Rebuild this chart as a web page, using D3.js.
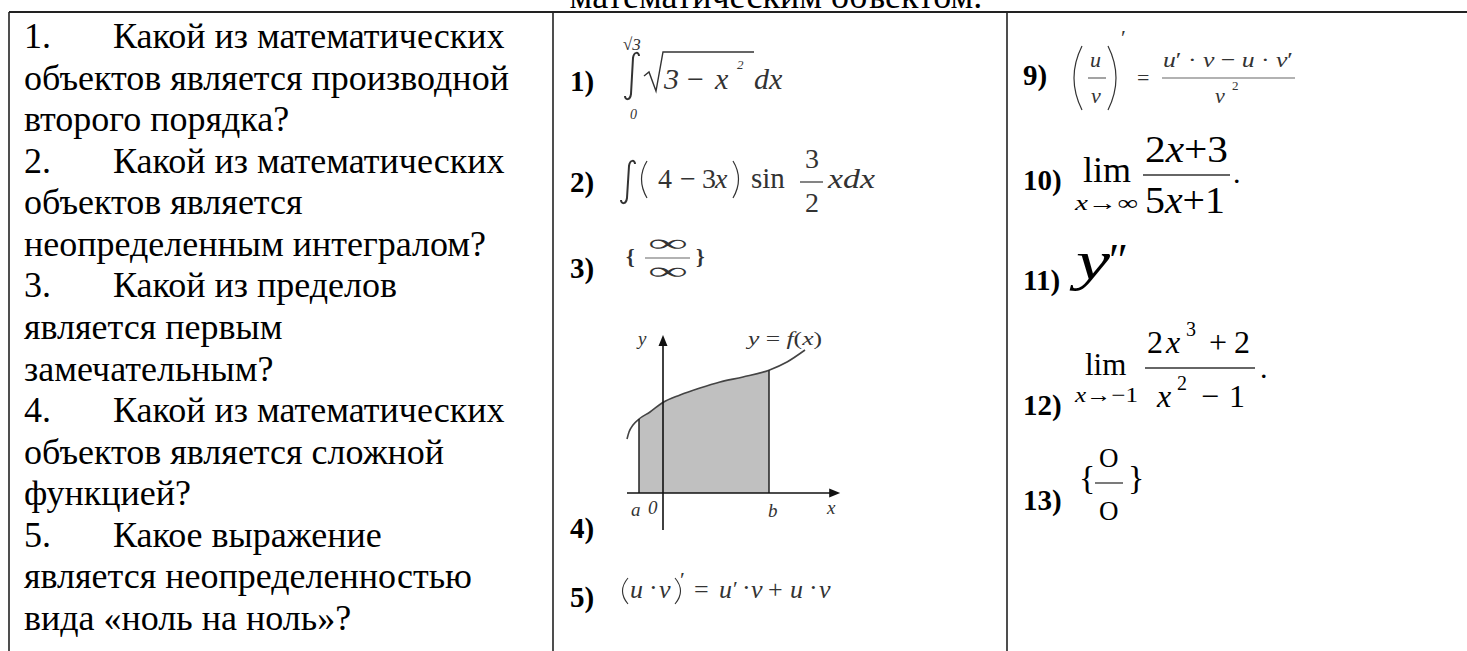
<!DOCTYPE html>
<html>
<head>
<meta charset="utf-8">
<script src="https://cdn.jsdelivr.net/npm/d3@7"></script>
<style>
  html, body { margin: 0; padding: 0; background: #fff; overflow: hidden; }
  text { font-family: "Liberation Serif", "Times New Roman", serif; }
</style>
</head>
<body>
<script>
/* ---------------------------- */
/* DATA                         */
/* ---------------------------- */

const headerText = "математическим объектом.";

// Left column: question numbers and wrapped text lines
const questionNums = ["1.", "", "", "2.", "", "", "3.", "", "", "4.", "", "", "5.", "", ""];
const questionText = [
    "Какой из математических",
    "объектов является производной",
    "второго порядка?",
    "Какой из математических",
    "объектов является",
    "неопределенным интегралом?",
    "Какой из пределов",
    "является первым",
    "замечательным?",
    "Какой из математических",
    "объектов является сложной",
    "функцией?",
    "Какое выражение",
    "является неопределенностью",
    "вида «ноль на ноль»?"
];

// Answer labels
const middleLabels = ["1)", "2)", "3)", "4)", "5)"];
const rightLabels = ["9)", "10)", "11)", "12)", "13)"];

// Item 4: curve y = f(x) (axis units)
const curveX = [-0.9, -0.85, -0.75, -0.6, -0.325, -0.025, 0.425, 0.925, 1.425, 2.0, 2.65, 3.1, 3.55];
const curveY = [1.35, 1.525, 1.7, 1.85, 2.025, 2.25, 2.45, 2.625, 2.775, 2.9, 3.07, 3.275, 3.575];
const boundA = -0.6, boundB = 2.65;
const axisX = [-0.9, 4.43];
const axisY = [-0.925, 3.95];

/* ---------------------------- */
/* CANVAS                       */
/* ---------------------------- */

const W = 1467, H = 651;
const ink = "#000", gray = "#333";

let svg = d3.select("body")
    .append("svg")
        .attr("width", W)
        .attr("height", H);

// plain text helper
function txt(x, y, s, o = {}) {
    let t = svg.append("text")
        .attr("x", x)
        .attr("y", y)
        .attr("font-size", o.size || 28)
        .attr("fill", o.fill || ink)
        .text(s);
    if (o.italic) t.attr("font-style", "italic");
    if (o.bold) t.attr("font-weight", "bold");
    if (o.anchor) t.attr("text-anchor", o.anchor);
    if (o.len) t.attr("textLength", o.len).attr("lengthAdjust", "spacingAndGlyphs");
    return t;
}

// text with mixed italic pieces: parts = [[str, italic], ...]
function rich(x, y, parts, o = {}) {
    let t = txt(x, y, "", o);
    parts.forEach(p => {
        t.append("tspan")
            .attr("font-style", p[1] ? "italic" : "normal")
            .text(p[0]);
    });
    return t;
}

function stroke(d, w, c) {
    return svg.append("path")
        .attr("d", d)
        .attr("fill", "none")
        .attr("stroke", c || gray)
        .attr("stroke-width", w || 1.3);
}

function hline(x1, x2, y, c, w) {
    stroke(`M${x1},${y}H${x2}`, w || 1.2, c);
}

// integral sign between y1 and y2, left edge x
function integral(x, y1, y2) {
    const w = 14;
    return stroke(`M${x + w},${y1 + 4} C${x + w},${y1} ${x + w - 5},${y1 - 1} ${x + w - 6},${y1 + 6}` +
        ` L${x + 6},${y2 - 6} C${x + 5},${y2 + 1} ${x},${y2} ${x},${y2 - 4}`, 2);
}

/* ---------------------------- */
/* TABLE                        */
/* ---------------------------- */

// header sentence, mostly above the visible area as in the scan
txt(776, 8, headerText, {size: 36, anchor: "middle"});

const border = "#222";
stroke(`M9,12H${W}`, 1.8, border);
[9, 553, 1007].forEach(x => stroke(`M${x},12V${H}`, 1.6, border));

// left column lines
let lineY = d3.scaleLinear().domain([0, questionText.length - 1]).range([48, 630]);
questionText.forEach((s, i) => {
    if (questionNums[i]) {
        txt(24, lineY(i), questionNums[i], {size: 36});
        txt(113, lineY(i), s, {size: 36});
    } else {
        txt(24, lineY(i), s, {size: 36});
    }
});

// labels
const midLabelY = [91, 192, 278, 538, 607];
const rightLabelY = [85, 190, 290, 415, 510];
middleLabels.forEach((s, i) => txt(570, midLabelY[i], s, {size: 29, bold: true}));
rightLabels.forEach((s, i) => txt(1023, rightLabelY[i], s, {size: 29, bold: true}));

/* ---------------------------- */
/* MIDDLE COLUMN FORMULAS       */
/* ---------------------------- */

// 1) definite integral
integral(625, 52, 100);
rich(623, 50, [["√", 0], ["3", 1]], {size: 17, fill: gray});
txt(630, 119, "0", {size: 14, italic: true, fill: gray});
stroke("M644,76 L649,72 L656,91 L663,52 L754,52", 1.4);
txt(664, 89, "3", {size: 30, italic: true, fill: gray});
txt(687, 89, "−", {size: 30, fill: gray});
txt(715, 89, "x", {size: 30, italic: true, fill: gray});
txt(737, 69, "2", {size: 13, italic: true, fill: gray});
txt(754, 89, "dx", {size: 30, italic: true, fill: gray});

// 2) indefinite integral
integral(621, 160, 204);
stroke("M647,161 Q636,179 647,198", 1.2);
stroke("M733,161 Q744,179 733,198", 1.2);
txt(658, 188, "4", {fill: gray});
txt(680, 188, "−", {fill: gray});
txt(702, 188, "3", {fill: gray});
txt(715, 188, "x", {italic: true, fill: gray});
txt(751, 188, "sin", {size: 29, fill: gray});
txt(805, 168, "3", {fill: gray});
hline(800, 823, 182);
txt(805, 212, "2", {fill: gray});
txt(828, 188, "xdx", {italic: true, fill: gray, len: 47});

// 3) {inf / inf}
txt(626, 264, "{", {size: 22, bold: true, fill: gray});
txt(696, 264, "}", {size: 22, bold: true, fill: gray});
txt(648, 251, "∞", {size: 24, fill: gray, len: 40});
hline(645, 690, 258, "#666", 1.2);
txt(648, 279, "∞", {size: 24, fill: gray, len: 40});

// 4) area under curve
let xs = d3.scaleLinear().domain([0, 1]).range([663, 703]);
let ys = d3.scaleLinear().domain([0, 1]).range([493, 453]);
let pts = curveX.map((x, i) => ({x: x, y: curveY[i]}));
let inside = pts.filter(d => d.x >= boundA && d.x <= boundB);

svg.append("path")
    .attr("d", d3.area()
        .x(d => xs(d.x))
        .y0(ys(0))
        .y1(d => ys(d.y))
        .curve(d3.curveMonotoneX)(inside))
    .attr("fill", "#c0c0c0");

svg.append("path")
    .attr("d", d3.line()
        .x(d => xs(d.x))
        .y(d => ys(d.y))
        .curve(d3.curveMonotoneX)(pts))
    .attr("fill", "none")
    .attr("stroke", "#444")
    .attr("stroke-width", 1.6);

[boundA, boundB].forEach(v => {
    let fy = pts.find(d => d.x === v).y;
    stroke(`M${xs(v)},${ys(0)}V${ys(fy)}`, 1.5, "#222");
});

// axes with arrow heads
stroke(`M${xs(axisX[0])},${ys(0)}H${xs(axisX[1]) - 6}`, 1.6, "#111");
stroke(`M${xs(0)},${ys(axisY[0])}V${ys(axisY[1]) + 6}`, 1.6, "#111");
svg.append("path")
    .attr("d", `M${xs(axisX[1])},${ys(0)} l-11,-4.5 l0,9 z`)
    .attr("fill", "#111");
svg.append("path")
    .attr("d", `M${xs(0)},${ys(axisY[1])} l-4.5,11 l9,0 z`)
    .attr("fill", "#111");

txt(638, 345, "y", {size: 19, italic: true, fill: gray});
rich(748, 345, [["y", 1], [" = ", 0], ["f", 1], ["(", 0], ["x", 1], [")", 0]], {size: 19, fill: gray, len: 74});
txt(631, 516, "a", {size: 19, italic: true, fill: gray});
txt(648, 514, "0", {size: 19, italic: true, fill: gray});
txt(768, 517, "b", {size: 19, italic: true, fill: gray});
txt(827, 514, "x", {size: 19, italic: true, fill: gray});

// 5) product rule
stroke("M628,578 Q617,591 628,604", 1.1);
stroke("M675,578 Q686,591 675,604", 1.1);
txt(630, 598, "u", {size: 26, italic: true, fill: gray});
txt(649, 596, "·", {size: 26, fill: gray});
txt(659, 598, "v", {size: 26, italic: true, fill: gray});
txt(680, 587, "′", {size: 22, fill: gray});
txt(694, 598, "=", {size: 26, fill: gray});
txt(719, 598, "u", {size: 26, italic: true, fill: gray});
txt(733, 596, "′", {size: 22, fill: gray});
txt(742, 596, "·", {size: 26, fill: gray});
txt(751, 598, "v", {size: 26, italic: true, fill: gray});
txt(768, 598, "+", {size: 26, fill: gray});
txt(790, 598, "u", {size: 26, italic: true, fill: gray});
txt(809, 596, "·", {size: 26, fill: gray});
txt(819, 598, "v", {size: 26, italic: true, fill: gray});

/* ---------------------------- */
/* RIGHT COLUMN FORMULAS        */
/* ---------------------------- */

// 9) quotient rule
stroke("M1082,46 Q1066,78 1082,110", 1.2);
stroke("M1108,46 Q1124,78 1108,110", 1.2);
txt(1090, 67, "u", {size: 22, italic: true, fill: gray});
hline(1088, 1106, 78, "#666");
txt(1091, 103, "v", {size: 22, italic: true, fill: gray});
txt(1121, 45, "′", {size: 22, fill: gray});
txt(1137, 85, "=", {size: 22, fill: gray});
rich(1163, 67, [["u", 1], ["′ · ", 0], ["v", 1], [" − ", 0], ["u", 1], [" · ", 0], ["v", 1], ["′", 0]],
    {size: 22, fill: gray, len: 130});
hline(1162, 1295, 78, "#666");
txt(1215, 103, "v", {size: 22, italic: true, fill: gray});
txt(1232, 90, "2", {size: 13, fill: gray});

// 10) limit at infinity
txt(1083, 182, "lim", {size: 36});
rich(1075, 210, [["x", 1], ["→∞", 0]], {size: 21, len: 63});
rich(1145, 162, [["2", 0], ["x", 1], ["+3", 0]], {size: 37, len: 83});
hline(1143, 1230, 175, "#333", 1.3);
rich(1145, 213, [["5", 0], ["x", 1], ["+1", 0]], {size: 37, len: 80});
txt(1233, 183, ".", {size: 30});

// 11) second derivative
txt(1076, 279, "y", {size: 54, italic: true, len: 34});
txt(1106, 276, "″", {size: 46, italic: true});

// 12) limit at -1
txt(1085, 375, "lim", {size: 31});
rich(1075, 402, [["x", 1], ["→−1", 0]], {size: 21, len: 63});
txt(1147, 353, "2", {size: 32});
txt(1166, 353, "x", {size: 32, italic: true});
txt(1186, 336, "3", {size: 20});
txt(1209, 353, "+", {size: 32});
txt(1234, 353, "2", {size: 32});
hline(1145, 1255, 368, "#333", 1.3);
txt(1157, 407, "x", {size: 32, italic: true});
txt(1177, 390, "2", {size: 20});
txt(1201, 407, "−", {size: 32});
txt(1229, 407, "1", {size: 32});
txt(1260, 378, ".", {size: 30});

// 13) {0 / 0}
txt(1079, 489, "{", {size: 34});
txt(1128, 489, "}", {size: 34});
txt(1099, 467, "O", {size: 27});
hline(1095, 1123, 483, "#333", 1.3);
txt(1099, 520, "O", {size: 27});
</script>
</body>
</html>
